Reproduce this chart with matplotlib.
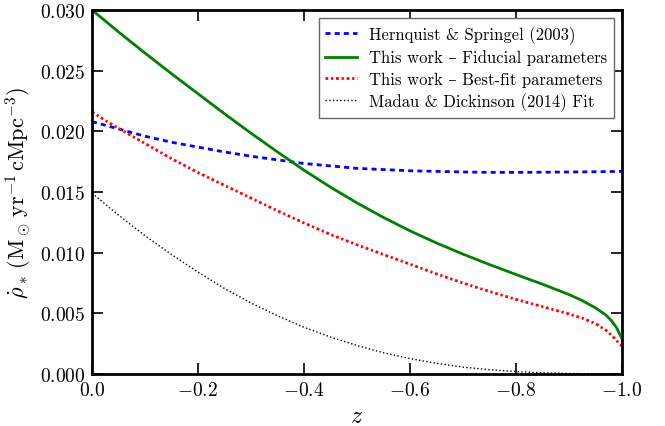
import matplotlib
matplotlib.use("Agg")
import matplotlib.pyplot as plt
import numpy as np

plt.rcParams['font.family'] = ['cmr10', 'DejaVu Serif']
plt.rcParams['mathtext.fontset'] = 'cm'
plt.rcParams['axes.formatter.use_mathtext'] = True

# redshift grids
z_main = [0, -0.05, -0.1, -0.15, -0.2, -0.25, -0.3, -0.35, -0.4, -0.45, -0.5,
          -0.55, -0.6, -0.65, -0.7, -0.75, -0.8, -0.85, -0.9, -0.95, -1.0]
z_fine = [0, -0.05, -0.1, -0.15, -0.2, -0.25, -0.3, -0.35, -0.4, -0.45, -0.5,
          -0.55, -0.6, -0.65, -0.7, -0.75, -0.8, -0.85, -0.9, -0.925, -0.95,
          -0.97, -0.98, -0.99, -1.0]
z_red = [0, -0.025] + z_fine[1:]

# star formation rate density, units of 1e-3 Msun/yr/cMpc^3
hernquist = [20.8, 20.2, 19.6, 19.1, 18.7, 18.3, 17.95, 17.65, 17.35, 17.15, 16.95,
             16.85, 16.75, 16.7, 16.65, 16.62, 16.62, 16.63, 16.65, 16.67, 16.7]
fiducial = [30.0, 28.2, 26.45, 24.75, 23.1, 21.45, 19.85, 18.3, 16.8, 15.4, 14.1,
            12.9, 11.8, 10.8, 9.88, 9.02, 8.2, 7.4, 6.55, 6.05, 5.45,
            4.85, 4.4, 3.8, 2.9]
bestfit = [21.6, 20.9, 20.25, 19.0, 17.75, 16.6, 15.55, 14.5, 13.45, 12.45, 11.5, 10.65,
           9.85, 9.05, 8.25, 7.5, 6.8, 6.15, 5.55, 4.95, 4.6, 4.15,
           3.6, 3.2, 2.75, 2.3]
madau = [14.9, 13.1, 11.4, 9.85, 8.4, 7.05, 5.85, 4.8, 3.85, 3.05, 2.35,
         1.75, 1.27, 0.88, 0.57, 0.35, 0.2, 0.1, 0.04, 0.01, 0.0]

fig = plt.figure(figsize=(6.65, 4.27), dpi=100)
ax = fig.add_axes([0.1383, 0.1218, 0.7970, 0.8524])

ax.plot(z_main, np.array(hernquist) * 1e-3, 'b--', lw=2, dashes=(1.8, 1.5),
        label='Hernquist & Springel (2003)')
ax.plot(z_fine, np.array(fiducial) * 1e-3, '-', color='green', lw=2,
        label='This work – Fiducial parameters')
ax.plot(z_red, np.array(bestfit) * 1e-3, 'r-.', lw=2, dashes=(1.0, 1.0, 0.8, 1.0),
        label='This work – Best-fit parameters')
ax.plot(z_main, np.array(madau) * 1e-3, 'k:', lw=1,
        label='Madau & Dickinson (2014) Fit')

ax.set_xlim(0, -1.0)
ax.set_ylim(0, 0.030)
ax.set_xticks([0, -0.2, -0.4, -0.6, -0.8, -1.0])
ax.set_yticks([0, 0.005, 0.01, 0.015, 0.02, 0.025, 0.03])
ax.set_xticklabels([r'$0.0$', r'$-0.2$', r'$-0.4$', r'$-0.6$', r'$-0.8$', r'$-1.0$'])
ax.set_yticklabels([r'$0.000$', r'$0.005$', r'$0.010$', r'$0.015$', r'$0.020$',
                    r'$0.025$', r'$0.030$'])
ax.tick_params(direction='in', length=8, width=1.2, top=True, right=True,
               labelsize=14, pad=5)
for s in ax.spines.values():
    s.set_linewidth(2)

ax.set_xlabel(r'$z$', fontsize=17)
ax.set_ylabel(r'$\dot{\rho}_*\,(\mathrm{M_\odot\,yr^{-1}\,cMpc^{-3}})$', fontsize=16)

leg = ax.legend(loc='upper right', fontsize=12, fancybox=False, framealpha=1,
                borderaxespad=0.5, handlelength=1.9, handletextpad=0.7,
                labelspacing=0.35)
leg.get_frame().set_edgecolor('0.4')

fig.savefig('out.png', dpi=100)
